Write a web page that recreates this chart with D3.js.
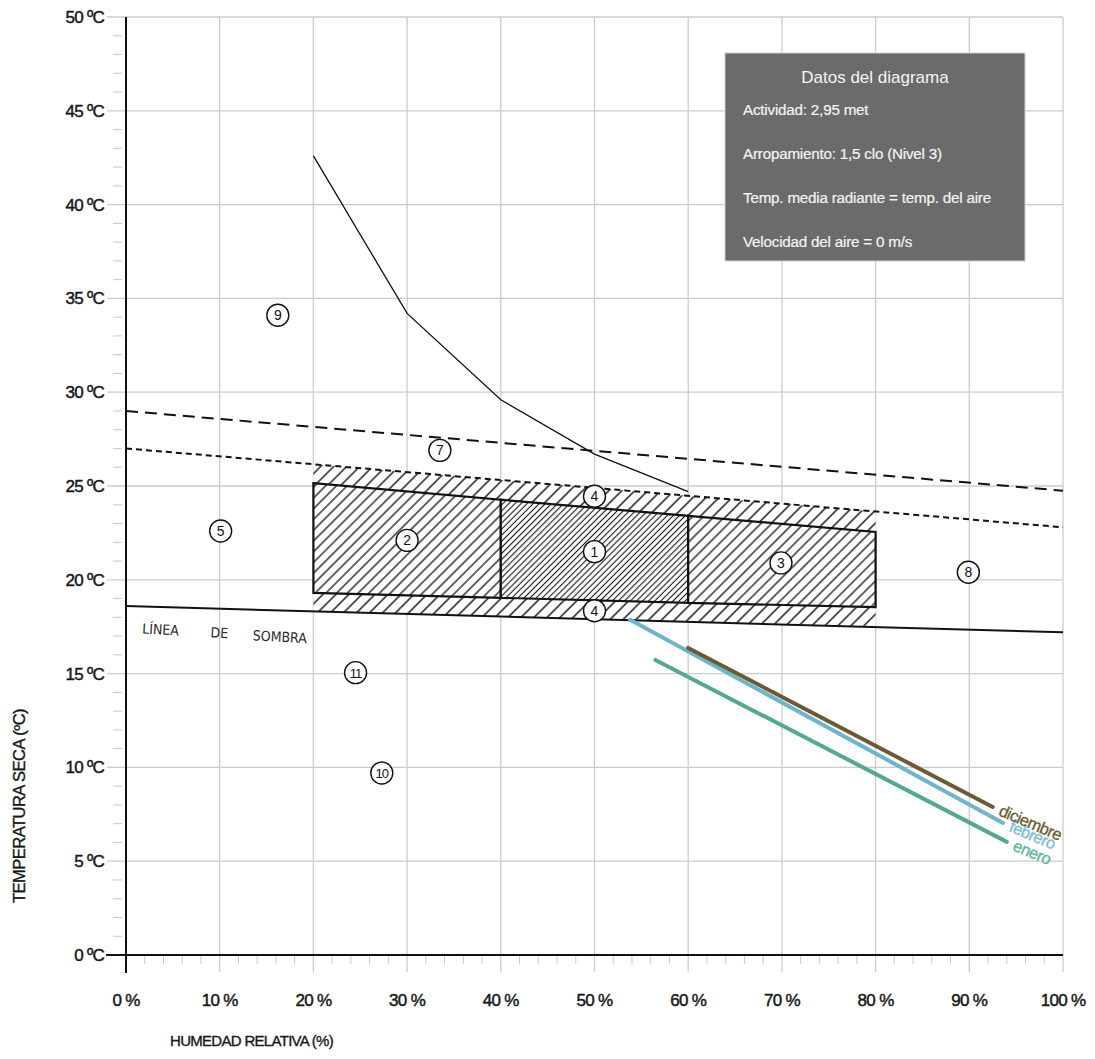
<!DOCTYPE html>
<html><head><meta charset="utf-8">
<script src="https://cdn.jsdelivr.net/npm/d3@7"></script>
<style>body{margin:0;background:#fff}</style>
</head><body><svg id="c" width="1095" height="1059"></svg>
<script>
// ---------- data ----------
const humidityTicks = [0,10,20,30,40,50,60,70,80,90,100];
const humidityLabels = ["0 %","10 %","20 %","30 %","40 %","50 %","60 %","70 %","80 %","90 %","100 %"];
const tempTicks = [0,5,10,15,20,25,30,35,40,45,50];
const tempLabels = ["0 ºC","5 ºC","10 ºC","15 ºC","20 ºC","25 ºC","30 ºC","35 ºC","40 ºC","45 ºC","50 ºC"];

const upperLimitLine = [[0,29.0],[100,24.75]];    // long dashes
const comfortTopLine = [[0,27.0],[100,22.8]];     // short dashes
const shadowLine = [[0,18.6],[100,17.2]];         // línea de sombra
const humidityCurve = [[20,42.6],[30,34.2],[40,29.6],[50,26.7],[60,24.7]];

const zoneEdgesRH = [20,40,60,80];
const zoneTopT = [25.15,24.27,23.41,22.55];
const zoneBottomT = [19.3,19.04,18.77,18.55];
const zoneDensity = ["mid","dense","mid"];

const zoneIds = ["9","7","4","4","5","2","1","3","8","11","10"];
const zoneRH  = [16.2,33.5,50,50,10.1,30,50,69.9,89.9,24.5,27.3];
const zoneT   = [34.1,26.9,24.45,18.35,22.6,22.1,21.5,20.9,20.4,15.05,9.7];

const months = ["febrero","diciembre","enero"];
const monthStart = [[53.8,17.87],[60.0,16.37],[56.5,15.73]];
const monthEnd   = [[93.6,7.04],[92.5,7.89],[94.0,6.03]];
const monthColors = ["#6db5cb","#6d5a34","#52a98b"];
const monthTextColors = ["#78bdd6","#6a5a2c","#5cb49c"];

const infoTitle = "Datos del diagrama";
const infoLines = ["Actividad: 2,95 met","Arropamiento: 1,5 clo (Nivel 3)","Temp. media radiante = temp. del aire","Velocidad del aire = 0 m/s"];
const shadowWords = ["LÍNEA","DE","SOMBRA"];
const shadowWordRH = [1.7,9.0,13.5];

// ---------- scales ----------
const svg = d3.select("#c");
const x = d3.scaleLinear().domain([0,100]).range([126,1063]);
const y = d3.scaleLinear().domain([0,50]).range([955,17]);
const FONT = "'Liberation Sans', Arial, sans-serif";
const lineAt = (ln, h) => ln[0][1] + (ln[1][1]-ln[0][1]) * (h-ln[0][0])/(ln[1][0]-ln[0][0]);

svg.append("rect").attr("width",1095).attr("height",1059).attr("fill","#fff");

const defs = svg.append("defs");
function hatch(id, gap, sw){
  const p = defs.append("pattern").attr("id",id).attr("patternUnits","userSpaceOnUse")
    .attr("width",gap).attr("height",gap).attr("patternTransform","rotate(45)");
  p.append("rect").attr("width",gap).attr("height",gap).attr("fill","#fff");
  p.append("line").attr("x1",gap/2).attr("y1",-1).attr("x2",gap/2).attr("y2",gap+1)
    .attr("stroke","#151515").attr("stroke-width",sw);
}
hatch("wide",9.2,1.4);
hatch("mid",7.6,1.3);
hatch("dense",4.3,1.1);

// ---------- grid ----------
const grid = svg.append("g");
tempTicks.filter(t=>t>0).forEach(t=>{
  grid.append("line").attr("x1",107).attr("x2",x(100)).attr("y1",y(t)).attr("y2",y(t))
    .attr("stroke","#cccccc").attr("stroke-width",1.3);
});
humidityTicks.filter(h=>h>0).forEach(h=>{
  grid.append("line").attr("x1",x(h)).attr("x2",x(h)).attr("y1",y(50)).attr("y2",972)
    .attr("stroke","#cccccc").attr("stroke-width",1.3);
});
d3.range(1,50).filter(t=>t%5!==0).forEach(t=>{
  grid.append("line").attr("x1",113).attr("x2",122).attr("y1",y(t)).attr("y2",y(t))
    .attr("stroke","#c8c8c8").attr("stroke-width",1);
});
d3.range(2,100,2).filter(h=>h%10!==0).forEach(h=>{
  grid.append("line").attr("x1",x(h)).attr("x2",x(h)).attr("y1",956).attr("y2",964)
    .attr("stroke","#c8c8c8").attr("stroke-width",1);
});

// axes lines
svg.append("line").attr("x1",x(0)).attr("x2",x(0)).attr("y1",y(50)).attr("y2",973)
  .attr("stroke","#111").attr("stroke-width",2);
svg.append("line").attr("x1",106).attr("x2",x(100)).attr("y1",y(0)).attr("y2",y(0))
  .attr("stroke","#111").attr("stroke-width",2);

// tick labels
svg.append("g").selectAll("text").data(tempTicks).join("text")
  .attr("x",104).attr("y",d=>y(d)+6).attr("text-anchor","end")
  .attr("font-family",FONT).attr("font-size",17).attr("letter-spacing",-0.7).attr("fill","#161616")
  .attr("stroke","#161616").attr("stroke-width",0.45)
  .text((d,i)=>tempLabels[i]);
svg.append("g").selectAll("text").data(humidityTicks).join("text")
  .attr("x",d=>x(d)).attr("y",1006).attr("text-anchor","middle")
  .attr("font-family",FONT).attr("font-size",17).attr("letter-spacing",-0.7).attr("fill","#161616")
  .attr("stroke","#161616").attr("stroke-width",0.45)
  .text((d,i)=>humidityLabels[i]);

// axis titles
svg.append("text").attr("x",170).attr("y",1046).attr("font-family",FONT).attr("font-size",15)
  .attr("letter-spacing",-0.7).attr("fill","#161616").attr("stroke","#161616").attr("stroke-width",0.35)
  .text("HUMEDAD RELATIVA (%)");
svg.append("text").attr("transform","translate(25,806) rotate(-90)").attr("text-anchor","middle")
  .attr("font-family",FONT).attr("font-size",16.5).attr("letter-spacing",-0.5).attr("fill","#161616")
  .attr("stroke","#161616").attr("stroke-width",0.35)
  .text("TEMPERATURA SECA (ºC)");

// ---------- info box ----------
svg.append("rect").attr("x",725).attr("y",53).attr("width",300).attr("height",208)
  .attr("fill","#6b6b6b").attr("stroke","#d0d0d0").attr("stroke-width",1);
svg.append("text").attr("x",875).attr("y",83).attr("text-anchor","middle")
  .attr("font-family",FONT).attr("font-size",17).attr("fill","#f4f4f4").text(infoTitle);
svg.append("g").selectAll("text").data(infoLines).join("text")
  .attr("x",743).attr("y",(d,i)=>115+i*44).attr("font-family",FONT).attr("font-size",15.2)
  .attr("letter-spacing",-0.2).attr("fill","#f4f4f4").attr("stroke","#f4f4f4").attr("stroke-width",0.2)
  .text(d=>d);

// ---------- comfort zones ----------
const pt = (h,t)=>[x(h),y(t)];
const e0 = zoneEdgesRH[0], e3 = zoneEdgesRH[zoneEdgesRH.length-1];
const outer = [pt(e0,lineAt(comfortTopLine,e0)), pt(e3,lineAt(comfortTopLine,e3)),
               pt(e3,lineAt(shadowLine,e3)), pt(e0,lineAt(shadowLine,e0))];
svg.append("polygon").attr("points",outer.map(p=>p.join(",")).join(" ")).attr("fill","url(#wide)");

const zonesG = svg.append("g");
zoneDensity.forEach((dens,i)=>{
  const poly = [pt(zoneEdgesRH[i],zoneTopT[i]), pt(zoneEdgesRH[i+1],zoneTopT[i+1]),
                pt(zoneEdgesRH[i+1],zoneBottomT[i+1]), pt(zoneEdgesRH[i],zoneBottomT[i])];
  zonesG.append("polygon").attr("points",poly.map(p=>p.join(",")).join(" "))
    .attr("fill","url(#"+dens+")").attr("stroke","#111").attr("stroke-width",2.2)
    .attr("stroke-linejoin","miter");
});

// ---------- lines ----------
const lineGen = d3.line().x(d=>x(d[0])).y(d=>y(d[1]));
svg.append("path").attr("d",lineGen(upperLimitLine)).attr("fill","none").attr("stroke","#111")
  .attr("stroke-width",2).attr("stroke-dasharray","12,7");
svg.append("path").attr("d",lineGen(comfortTopLine)).attr("fill","none").attr("stroke","#111")
  .attr("stroke-width",2).attr("stroke-dasharray","6,4");
svg.append("path").attr("d",lineGen(shadowLine)).attr("fill","none").attr("stroke","#111")
  .attr("stroke-width",2);
svg.append("path").attr("d",lineGen(humidityCurve)).attr("fill","none").attr("stroke","#111")
  .attr("stroke-width",1.3);

// shadow line text
const ang = Math.atan2(y(shadowLine[1][1])-y(shadowLine[0][1]), x(100)-x(0))*180/Math.PI;
shadowWords.forEach((w,i)=>{
  const h = shadowWordRH[i];
  const px = x(h), py = y(lineAt(shadowLine,h)) + 27 + i*1.8;
  svg.append("text").attr("transform",`translate(${px},${py}) rotate(${ang+1.5})`)
    .attr("font-family","'DejaVu Sans Condensed','DejaVu Sans',sans-serif").attr("font-size",14)
    .attr("fill","#2a2a2a").text(w);
});

// ---------- month lines ----------
months.forEach((m,i)=>{
  const s = monthStart[i], e = monthEnd[i];
  svg.append("line").attr("x1",x(s[0])).attr("y1",y(s[1])).attr("x2",x(e[0])).attr("y2",y(e[1]))
    .attr("stroke",monthColors[i]).attr("stroke-width",4).attr("stroke-linecap","round");
});
months.forEach((m,i)=>{
  const e = monthEnd[i];
  svg.append("text").attr("transform",`translate(${x(e[0])+5},${y(e[1])+8}) rotate(23)`)
    .attr("font-family",FONT).attr("font-size",16.5).attr("letter-spacing",-0.6)
    .attr("fill",monthTextColors[i]).attr("stroke",monthTextColors[i]).attr("stroke-width",0.3).text(m);
});

// ---------- circled zone labels ----------
const lab = svg.append("g");
zoneIds.forEach((id,i)=>{
  const cx = x(zoneRH[i]), cy = y(zoneT[i]);
  lab.append("circle").attr("cx",cx).attr("cy",cy).attr("r",11)
    .attr("fill","#fff").attr("stroke","#111").attr("stroke-width",1.4);
  lab.append("text").attr("x",cx).attr("y",cy+5).attr("text-anchor","middle")
    .attr("font-family",FONT).attr("font-size",id.length>1?13:14).attr("letter-spacing",id.length>1?-1:0)
    .attr("fill","#111").text(id);
});
</script></body></html>
